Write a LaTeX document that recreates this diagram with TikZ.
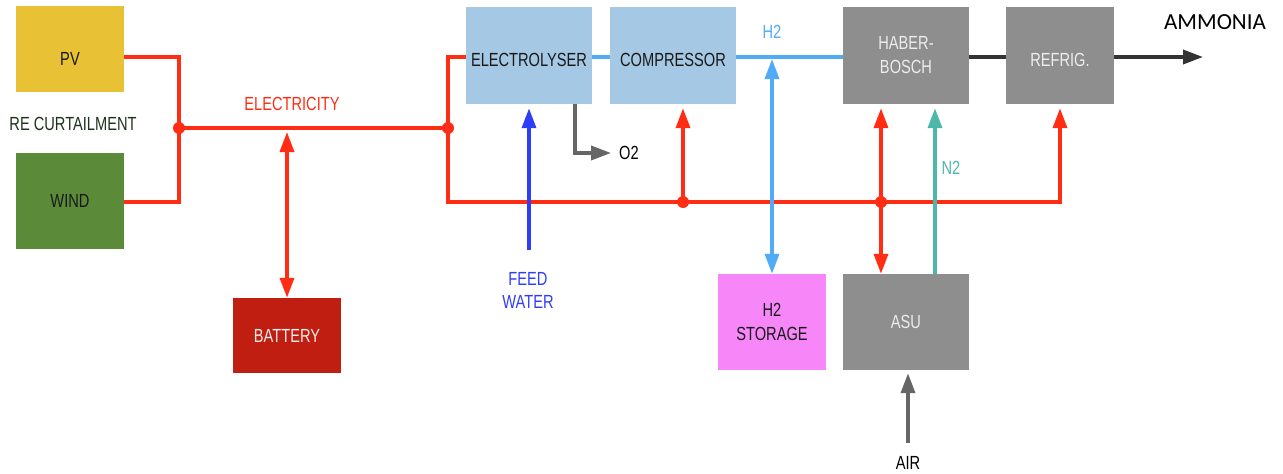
\documentclass[tikz,border=0pt]{standalone}
\usepackage{fontspec}
\setmainfont{Liberation Sans}[FakeStretch=0.77]
\newfontfamily\ammfont{Carlito}
\usetikzlibrary{arrows.meta}
\definecolor{ered}{HTML}{FF2D14}
\definecolor{pvc}{HTML}{E9C134}
\definecolor{windc}{HTML}{5B8A38}
\definecolor{batc}{HTML}{C11E12}
\definecolor{bluebox}{HTML}{A5C8E4}
\definecolor{greybox}{HTML}{8E8E8E}
\definecolor{storc}{HTML}{F786F8}
\definecolor{hblue}{HTML}{52ABF7}
\definecolor{wblue}{HTML}{2F3DF5}
\definecolor{nteal}{HTML}{4DB8AA}
\definecolor{ogrey}{HTML}{666666}
\definecolor{dgrey}{HTML}{333333}
\definecolor{lighttext}{HTML}{EDEDED}
\definecolor{retext}{HTML}{1E331E}
\tikzset{
  blk/.style={rectangle, inner sep=0pt, align=center, text=black!90,
    font=\fontsize{19}{24}\selectfont},
  blktext/.style={inner sep=0pt, align=center, font=\fontsize{19}{24}\selectfont},
  lbl/.style={inner sep=0pt, align=center, font=\fontsize{19}{23}\selectfont},
  tip/.tip={Triangle[length=20pt,width=14pt]},
  eline/.style={draw=ered, line width=3.5pt},
  hline/.style={draw=hblue, line width=3.5pt},
  wline/.style={draw=wblue, line width=3.5pt},
  nline/.style={draw=nteal, line width=3.5pt},
  gline/.style={draw=ogrey, line width=3.5pt},
  dline/.style={draw=dgrey, line width=3.5pt},
  dot/.style={fill=ered}
}
\begin{document}
\begin{tikzpicture}[x=1pt,y=-1pt]
\useasboundingbox (0,0) rectangle (1283,474);
% boxes
\node[blk, fill=pvc, minimum width=108pt, minimum height=86pt,
  label={[blktext, text=black!90, yshift=-10pt]center:PV}] (pv) at (70,49) {};
\node[blk, fill=windc, minimum width=108pt, minimum height=96pt] (wind) at (70,200.5) {WIND};
\node[blk, fill=batc, text=lighttext, minimum width=108pt, minimum height=75pt] (bat) at (287,335.5) {BATTERY};
\node[blk, fill=bluebox, minimum width=126pt, minimum height=97pt,
  label={[blktext, text=black!90, yshift=-4.5pt]center:ELECTROLYSER}] (elec) at (529,55.5) {};
\node[blk, fill=bluebox, minimum width=126pt, minimum height=97pt,
  label={[blktext, text=black!90, yshift=-4.5pt]center:COMPRESSOR}] (comp) at (673,55.5) {};
\node[blk, fill=greybox, text=lighttext, minimum width=126pt, minimum height=97pt] (hb) at (906,55.5) {HABER-\\BOSCH};
\node[blk, fill=greybox, minimum width=108pt, minimum height=97pt,
  label={[blktext, text=lighttext, yshift=-4.5pt]center:REFRIG.}] (ref) at (1060,55.5) {};
\node[blk, fill=storc, minimum width=108pt, minimum height=96pt] (stor) at (772,322) {H2\\STORAGE};
\node[blk, fill=greybox, text=lighttext, minimum width=126pt, minimum height=96pt] (asu) at (906,322) {ASU};
% labels
\node[lbl, text=retext] (re) at (73,124) {RE CURTAILMENT};
\node[lbl, text=ered] (elab) at (292,104) {ELECTRICITY};
\node[lbl, text=hblue] (h2lab) at (772,32) {H2};
\node[lbl, text=wblue] (fw) at (528,290) {FEED\\WATER};
\node[lbl, text=black] (o2) at (629,153) {O2};
\node[lbl, text=nteal] (n2) at (951,168) {N2};
\node[lbl, text=black] (air) at (908,463) {AIR};
\node[inner sep=0pt, font=\ammfont\fontsize{23}{26}\selectfont] (amm) at (1215,22) {AMMONIA};
% coordinates
\coordinate (j1) at (179,128);
\coordinate (j2) at (448,128);
\coordinate (cb) at (448,202);
\coordinate (d1) at (683,202);
\coordinate (d2) at (881,202);
\coordinate (bb) at (287,128);
\coordinate (h2j) at (772,57);
\coordinate (fws) at (529,250);
\coordinate (airs) at (908,443);
\coordinate (ammend) at (1203,57);
% electricity
\draw[eline] ([yshift=-8pt]pv.east) -| (j1) |- ([yshift=-1.5pt]wind.east);
\draw[eline] (j1) -- (j2);
\draw[eline, -tip, shorten >=4pt] ([yshift=-1.5pt]elec.west) -| (cb) -| (ref.south);
\draw[eline, tip-tip, shorten <=4pt] (bb) -- (bat.north);
\draw[eline, -tip, shorten >=4pt] (d1) -- (d1 |- comp.south);
\draw[eline, tip-tip, shorten >=4pt] ([xshift=-25pt]asu.north) -- ([xshift=-25pt]hb.south);
\fill[dot] (j1) circle (6);
\fill[dot] (j2) circle (6);
\fill[dot] (d1) circle (6);
\fill[dot] (d2) circle (6);
% hydrogen
\draw[hline] ([yshift=-1.5pt]elec.east) -- ([yshift=-1.5pt]comp.west);
\draw[hline] ([yshift=-1.5pt]comp.east) -- ([yshift=-1.5pt]hb.west);
\draw[hline, tip-tip, shorten <=2pt] (h2j) -- (stor.north);
% water
\draw[wline, -tip, shorten >=4pt] (fws) -- (elec.south);
% oxygen
\draw[gline, -tip, shorten >=8pt] ([xshift=46pt]elec.south) |- (o2.west);
% nitrogen
\draw[nline, -tip, shorten >=4pt] ([xshift=29pt]asu.north) -- ([xshift=29pt]hb.south);
% ammonia
\draw[dline] ([yshift=-1.5pt]hb.east) -- ([yshift=-1.5pt]ref.west);
\draw[dline, -tip] ([yshift=-1.5pt]ref.east) -- (ammend);
% air
\draw[gline, -tip, shorten >=3pt] (airs) -- (airs |- asu.south);
\end{tikzpicture}
\end{document}
